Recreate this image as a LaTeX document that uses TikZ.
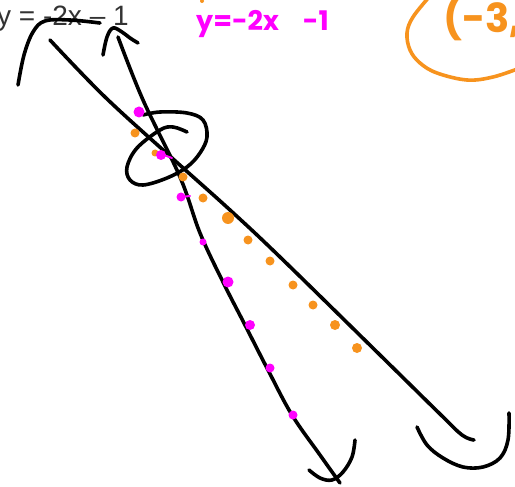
\documentclass[tikz,border=0pt]{standalone}
\usepackage{fontspec}
\setmainfont{Liberation Sans}
\newfontfamily\inkfont{Poppins}
\usepackage{xcolor}
\usetikzlibrary{positioning}
\definecolor{inkpink}{HTML}{FF00FF}
\definecolor{inkorange}{HTML}{F7931E}
\definecolor{typegray}{HTML}{333333}

\begin{document}
\begin{tikzpicture}[
  x=1pt, y=-1pt,
  pen/.style={line width=3.6pt, line cap=round, line join=round},
  orangepen/.style={pen, draw=inkorange},
  typed/.style={inner sep=0pt, text=typegray, font=\fontsize{28}{28}\selectfont},
  scrawl/.style={inner sep=0pt, font=\inkfont\bfseries\fontsize{27}{27}\selectfont}
]
\clip (0,0) rectangle (515,487);
\fill[white] (0,0) rectangle (515,487);
\node[typed, anchor=base west] (eqtyped) at (-3,26) {y = -2x – 1};
\node[scrawl, text=inkpink, anchor=base west] (eqpink) at (196,31) {y=-2x\hspace{24pt}-1};
\node[scrawl, text=inkorange, font=\inkfont\bfseries\fontsize{40}{40}\selectfont, anchor=base west] (pointlbl) at (443,33) {(-3,5};
\fill[inkorange] (202,1) circle (2);
\draw[orangepen] plot[smooth, tension=0.6] coordinates {(430,-4) (413,17) (407,33) (410,50) (420,63) (437,73) (467,80) (493,77) (520,68)};
\draw[pen] plot[smooth, tension=0.6] coordinates {(50,40) (105,97) (172,158) (230,210) (280,257) (380,355) (440,414) (462,435) (474,440)};
\draw[pen] plot[smooth, tension=0.6] coordinates {(118,37) (143,100) (180,177) (200,233) (223,282) (245,325) (268,370) (292,415) (320,455) (340,483)};
\draw[pen] plot[smooth, tension=0.6] coordinates {(18,85) (24,55) (33,32) (45,21) (70,20) (100,23)};
\draw[pen] plot[smooth, tension=0.6] coordinates {(103,55) (107,37) (113,28) (122,32) (130,38) (138,43)};
\draw[pen] plot[smooth, tension=0.6] coordinates {(309,470) (320,478) (332,480) (343,472) (352,457) (355,440)};
\draw[pen] plot[smooth, tension=0.6] coordinates {(417,427) (427,445) (443,458) (463,467) (483,467) (500,458) (508,440) (509,413)};
\draw[pen] plot[smooth, tension=0.6] coordinates {(187,132) (173,127) (160,130) (137,148) (127,167) (130,180) (143,185) (167,178) (187,167) (200,153) (207,137) (203,120) (187,113) (160,112) (143,115)};
\fill[inkorange] (135,133) circle (4.5);
\fill[inkorange] (155,153) circle (3.5);
\fill[inkorange] (183,177) circle (4.5);
\fill[inkorange] (203,198) circle (4.5);
\fill[inkorange] (228,218) circle (6);
\fill[inkorange] (248,240) circle (4.5);
\fill[inkorange] (270,261) circle (4.5);
\fill[inkorange] (293,285) circle (4.5);
\fill[inkorange] (313,305) circle (4.5);
\fill[inkorange] (335,325) circle (5);
\fill[inkorange] (357,348) circle (5);
\fill[inkpink] (139,112) circle (5.5);
\fill[inkpink] (161,155) circle (5);
\draw[inkpink, line width=2pt, line cap=round] (161,154) -- (172,158);
\fill[inkpink] (181,197) circle (4.5);
\draw[inkpink, line width=2pt, line cap=round] (181,197) -- (190,196);
\fill[inkpink] (203,242) circle (3.5);
\fill[inkpink] (228,282) circle (5.5);
\fill[inkpink] (250,325) circle (5);
\fill[inkpink] (270,368) circle (4.5);
\fill[inkpink] (293,415) circle (4.5);
\end{tikzpicture}
\end{document}
